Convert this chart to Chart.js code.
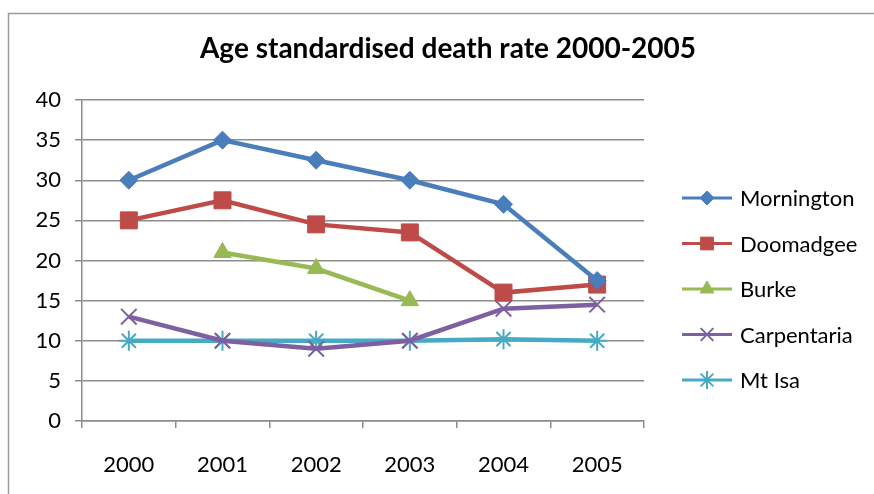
<!DOCTYPE html>
<html>
<head>
<meta charset="utf-8">
<script src="https://cdn.jsdelivr.net/npm/chart.js@4.4.1/dist/chart.umd.min.js"></script>
<style>
  html, body { margin: 0; padding: 0; background: #fff; }
  #wrap { position: relative; width: 874px; height: 494px; }
</style>
</head>
<body>
<div id="wrap"><canvas id="c" width="874" height="494"></canvas></div>
<script>
// Age standardised death rates by shire, 2000-2005
const years = ['2000', '2001', '2002', '2003', '2004', '2005'];
const mornington  = [30, 35, 32.5, 30, 27, 17.5];
const doomadgee   = [25, 27.5, 24.5, 23.5, 16, 17];
const burke       = [null, 21, 19, 15, null, null];
const carpentaria = [13, 10, 9, 10, 14, 14.5];
const mtIsa       = [10, 10, 10, 10, 10.2, 10];
const yTicks = [0, 5, 10, 15, 20, 25, 30, 35, 40];

const FONT = 'Lato, "Open Sans", sans-serif';

function series(label, data, color, style, radius, bw, legendRadius) {
  return {
    label, data,
    borderColor: color,
    backgroundColor: color,
    pointBackgroundColor: color,
    pointBorderColor: color,
    pointStyle: style,
    pointRadius: radius,
    pointBorderWidth: bw,
    borderWidth: 4.5,
    tension: 0,
    spanGaps: false,
    legendRadius
  };
}

const datasets = [
  series('Mornington', mornington, '#4A7EBB', 'rectRot', 9, 1, 7),
  series('Doomadgee', doomadgee, '#BE4B48', 'rect', 12, 1, 9),
  series('Burke', burke, '#98B954', 'triangle', 10, 1, 8),
  series('Carpentaria', carpentaria, '#7D60A0', 'crossRot', 11, 2, 9),
  series('Mt Isa', mtIsa, '#46AAC5', 'star', 10, 2, 9)
];

// frame, title and legend drawn around the plot
const decorations = {
  id: 'decorations',
  beforeDraw(chart) {
    const ctx = chart.ctx;
    ctx.save();
    ctx.fillStyle = '#fff';
    ctx.fillRect(0, 0, chart.width, chart.height);
    ctx.strokeStyle = '#9a9a9a';
    ctx.lineWidth = 1.5;
    ctx.strokeRect(8.5, 13.5, 900, 520);
    ctx.restore();
  },
  afterDraw(chart) {
    const ctx = chart.ctx;
    ctx.save();
    ctx.fillStyle = '#000';
    ctx.font = 'bold 28px ' + FONT;
    ctx.textAlign = 'center';
    ctx.textBaseline = 'middle';
    ctx.fillText('Age standardised death rate 2000-2005', 448, 49);

    ctx.font = '22px ' + FONT;
    ctx.textAlign = 'left';
    chart.data.datasets.forEach((ds, i) => {
      const y = 198 + i * 45.5;
      ctx.strokeStyle = ds.borderColor;
      ctx.lineWidth = 3;
      ctx.beginPath();
      ctx.moveTo(682, y);
      ctx.lineTo(732, y);
      ctx.stroke();
      ctx.fillStyle = ds.backgroundColor;
      ctx.lineWidth = ds.pointBorderWidth;
      Chart.helpers.drawPoint(ctx, { pointStyle: ds.pointStyle, radius: ds.legendRadius, rotation: 0, borderWidth: ds.pointBorderWidth }, 707, y);
      ctx.fillStyle = '#000';
      ctx.fillText(ds.label, 740, y + 1);
    });
    ctx.restore();
  }
};

new Chart(document.getElementById('c'), {
  type: 'line',
  data: { labels: years, datasets },
  plugins: [decorations],
  options: {
    responsive: false,
    animation: false,
    devicePixelRatio: 1,
    layout: { padding: { left: 0, right: 230, top: 100, bottom: 0 } },
    plugins: {
      legend: { display: false },
      title: { display: false },
      tooltip: { enabled: false }
    },
    scales: {
      x: {
        offset: true,
        grid: { offset: true, drawOnChartArea: false, drawTicks: true, tickLength: 7, color: '#8c8c8c', lineWidth: 1.5 },
        border: { color: '#8c8c8c', width: 1.5 },
        ticks: { color: '#000', font: { family: FONT, size: 22 }, padding: 24 },
        afterFit(scale) { scale.height = 73; }
      },
      y: {
        min: 0, max: 40,
        afterBuildTicks(scale) { scale.ticks = yTicks.map(v => ({ value: v })); },
        grid: { drawTicks: true, tickLength: 7, color: '#8c8c8c', lineWidth: 1.5 },
        border: { color: '#8c8c8c', width: 1.5 },
        ticks: { color: '#000', font: { family: FONT, size: 22 }, padding: 14 },
        afterFit(scale) { scale.width = 82; }
      }
    }
  }
});
</script>
</body>
</html>
